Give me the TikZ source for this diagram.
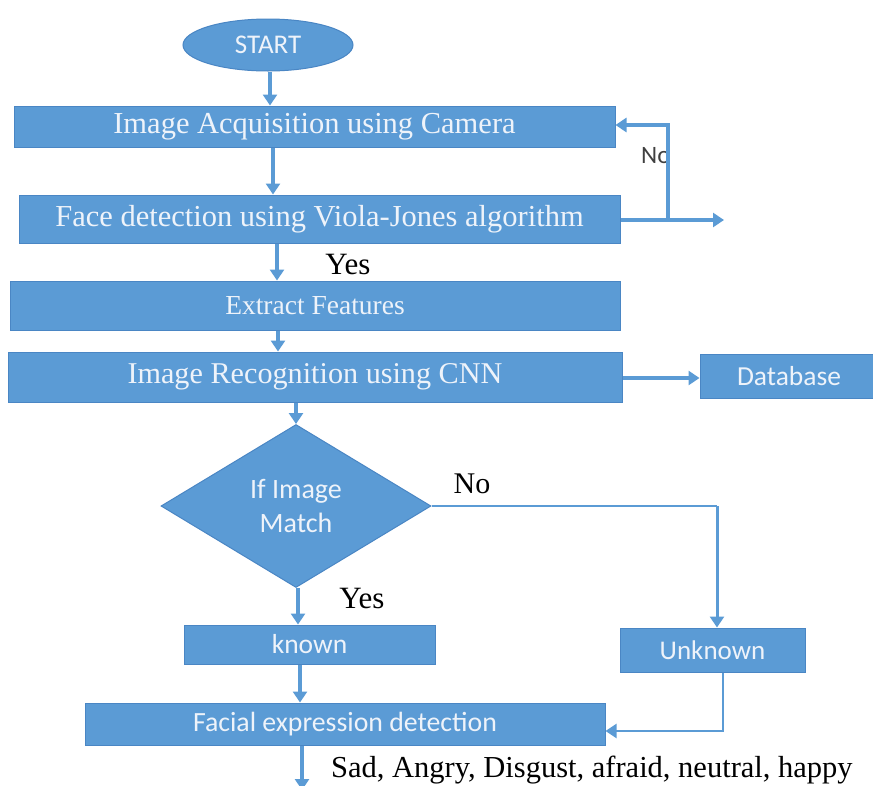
\documentclass[tikz,border=0pt]{standalone}
\usepackage{fontspec}
\setmainfont{Liberation Serif}
\newfontfamily\carl{Carlito}
\usetikzlibrary{shapes.geometric,arrows.meta}
\definecolor{fblue}{HTML}{5B9BD5}
\definecolor{bblue}{HTML}{4A86C4}
\definecolor{ltxt}{HTML}{EEF3FA}
\begin{document}
\begin{tikzpicture}[x=1pt,y=-1pt,
  boxs/.style={rectangle,fill=fblue,draw=bblue,line width=1pt,inner sep=0pt,text=ltxt},
  serifbox/.style={boxs,font=\fontsize{30.5}{32}\selectfont},
  sansbox/.style={boxs,font=\carl\fontsize{27.5}{32}\selectfont},
  arr/.style={draw=fblue,line width=3.5pt,-{Triangle[width=14pt,length=11pt]}},
  ln/.style={draw=fblue,line width=3.5pt},
  thinarr/.style={draw=fblue,line width=2.2pt,-{Triangle[width=14pt,length=11pt]}},
  lbl/.style={text=black,inner sep=0pt,font=\fontsize{31}{32}\selectfont}
]
\useasboundingbox (0,0) rectangle (873,785);
\clip (0,0) rectangle (873,785);
% nodes
\node[ellipse,fill=fblue,draw=bblue,line width=1pt,minimum width=170pt,minimum height=52pt,inner sep=0pt,text=ltxt,font=\carl\fontsize{27}{28}\selectfont] (start) at (268,45) {START};
\node[serifbox,minimum width=601pt,minimum height=41pt] (b1) at (314.5,126.5) {Image Acquisition using Camera};
\node[serifbox,minimum width=601pt,minimum height=48pt] (b2) at (319.5,219) {Face detection using Viola-Jones algorithm};
\node[serifbox,minimum width=610pt,minimum height=49pt,font=\fontsize{27.5}{28}\selectfont] (b3) at (315,305.5) {Extract Features};
\node[serifbox,minimum width=614pt,minimum height=50pt,font=\fontsize{30.2}{32}\selectfont] (b4) at (315,377) {Image Recognition using CNN};
\node[sansbox,minimum width=178pt,minimum height=44pt] (db) at (789,376) {Database};
\node[diamond,fill=fblue,draw=bblue,line width=1pt,minimum width=270pt,minimum height=163pt,inner sep=0pt,text=ltxt,align=center,font=\carl\fontsize{28}{34}\selectfont] (dec) at (296,506) {If Image\\Match};
\node[sansbox,minimum width=251pt,minimum height=39pt] (known) at (309.5,644.5) {known};
\node[sansbox,minimum width=185pt,minimum height=44pt,font=\carl\fontsize{27}{32}\selectfont] (unk) at (712.5,650) {Unknown};
\node[sansbox,minimum width=520pt,minimum height=42pt,font=\carl\fontsize{27.8}{32}\selectfont] (fac) at (345,724) {Facial expression detection};
% coordinates
\coordinate (c1) at (668,220);
\coordinate (c2) at (668,125);
\coordinate (c3) at (724,220);
\coordinate (d1) at (717,506);
\coordinate (u1) at (723,731);
\coordinate (endc) at (302,790);
% labels
\node[text=black!75,inner sep=0pt,font=\carl\fontsize{25}{28}\selectfont,anchor=west] (lno1) at (641,156) {No};
\node[lbl] (lyes1) at (348,264) {Yes};
\node[lbl,font=\fontsize{30}{30}\selectfont] (lno2) at (472,484) {No};
\node[lbl] (lyes2) at (362,598) {Yes};
\node[lbl,anchor=west,font=\fontsize{30.5}{30}\selectfont] (lres) at (331,770) {Sad, Angry, Disgust, afraid, neutral, happy};
% connectors
\draw[arr] (start.south -| 270,0) -- (b1.north -| 270,0);
\draw[arr] (b1.south -| 273,0) -- (b2.north -| 273,0);
\draw[arr] (b2.south -| 277,0) -- (b3.north -| 277,0);
\draw[arr] (b3.south -| 278,0) -- (b4.north -| 278,0);
\draw[arr] (b4.south -| 296,0) -- (dec.north);
\draw[arr] (dec.south -| 298,0) -- (known.north -| 298,0);
\draw[arr] (known.south -| 300,0) -- (fac.north -| 300,0);
\draw[arr] (fac.south -| 302,0) -- (endc);
\draw[ln] (b2.east |- c1) -- (c1);
\draw[arr] (c1) -- (c2) -- (b1.east |- c2);
\draw[arr] (c1) -- (c3);
\draw[arr] (b4.east |- 0,378) -- (db.west |- 0,378);
\draw[draw=fblue,line width=2pt] (dec.east) -- (d1);
\draw[arr,line width=3pt] (d1) -- (unk.north -| d1);
\draw[thinarr] (unk.south -| u1) -- (u1) -- (fac.east |- u1);
\end{tikzpicture}
\end{document}
